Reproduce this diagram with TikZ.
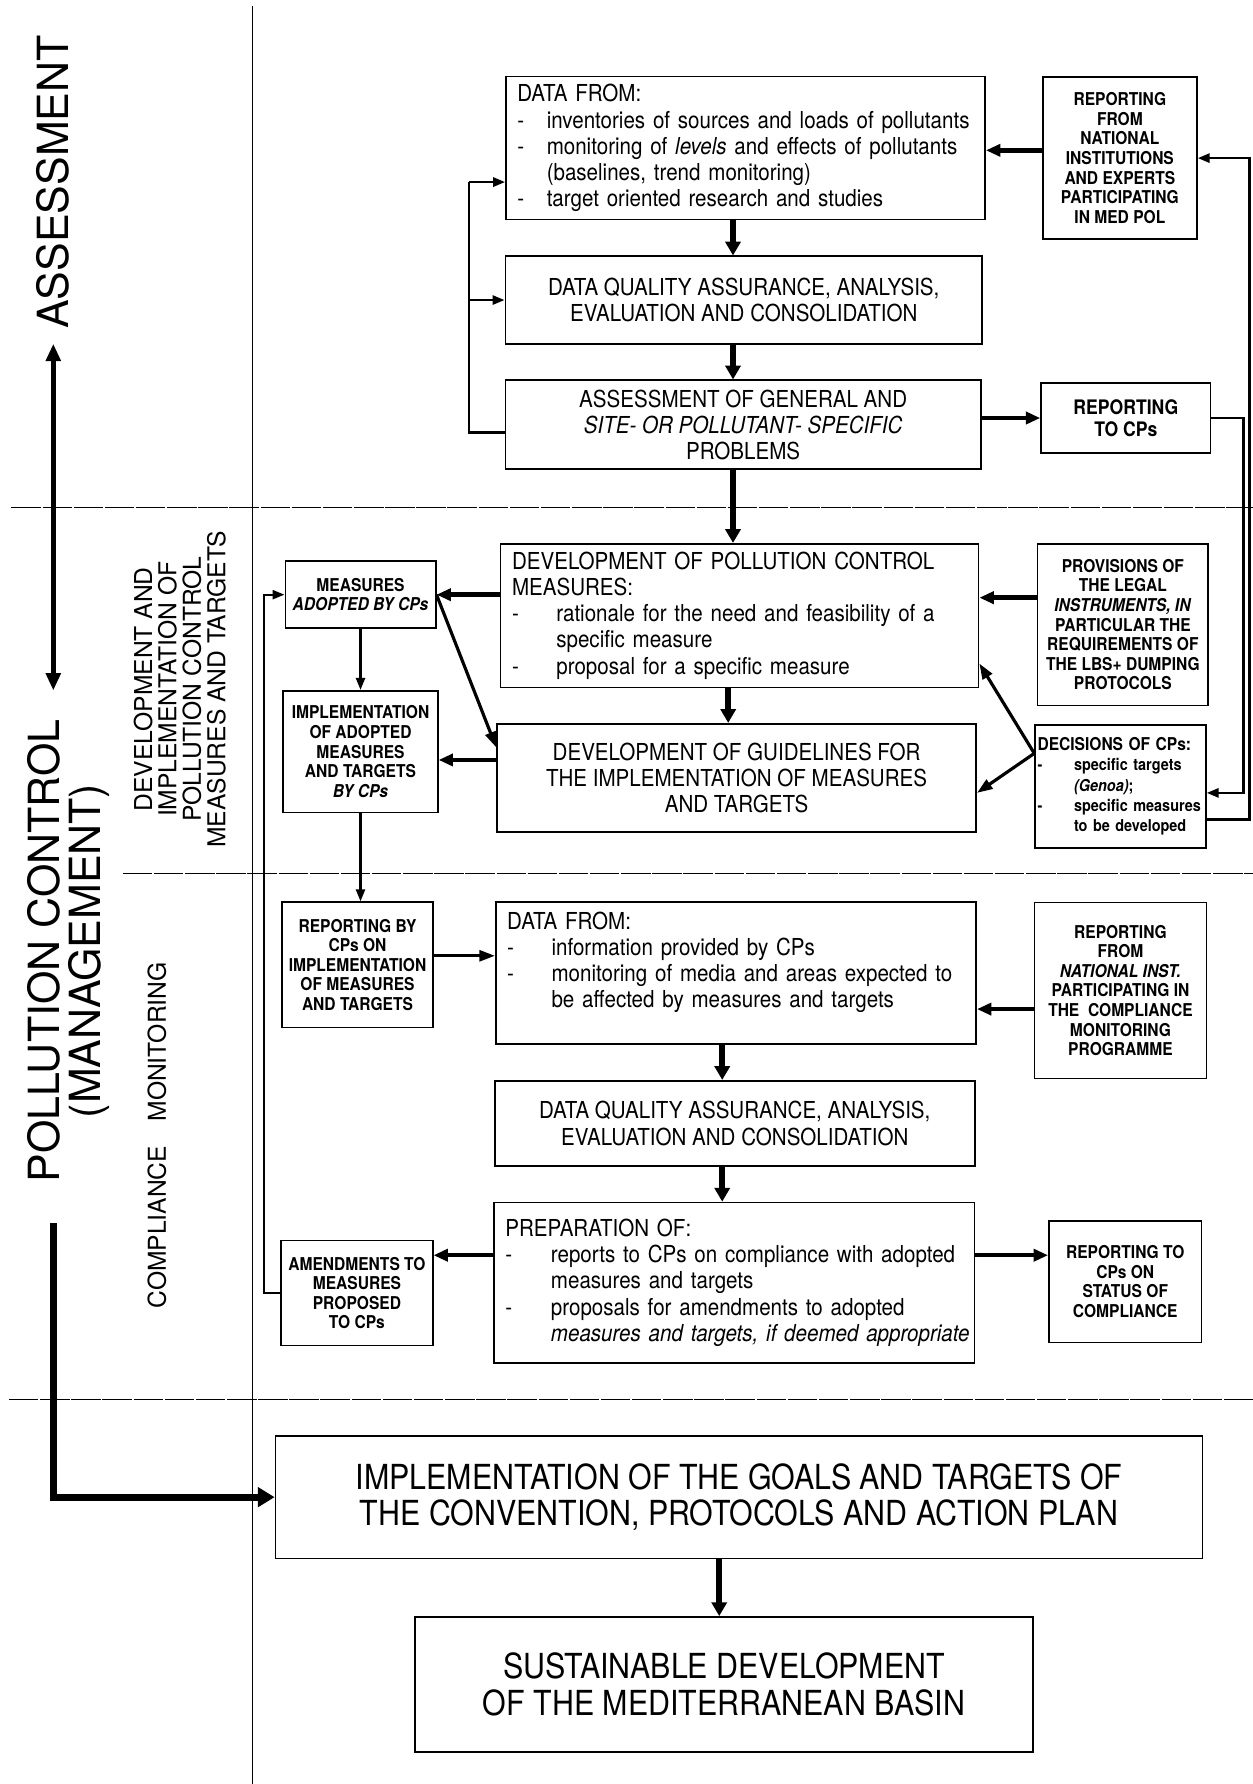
\documentclass[tikz,border=0pt]{standalone}
\usepackage{fontspec}
\setmainfont{TeX Gyre Heros}[FakeStretch=0.88]
\newfontfamily\plainsans{TeX Gyre Heros}
\usepackage{tikz}
\usetikzlibrary{calc, positioning, arrows.meta}

\newcommand{\dashline}[2]{\mbox{\makebox[#1][l]{-}#2}}
\newcommand{\contline}[2]{\mbox{\hspace*{#1}#2}}

\begin{document}
\begin{tikzpicture}[x=1mm, y=1mm]
		\tikzstyle{textbox}=[draw=black, line width=0.8pt, inner sep=0pt, align=center, font=\fontsize{11.1}{12.4}\selectfont]
		\tikzstyle{listbox}=[textbox, align=left, inner xsep=1.9mm]
		\tikzstyle{smallbox}=[draw=black, line width=0.8pt, inner sep=0.4mm, align=center, font=\bfseries\fontsize{8.4}{9.3}\selectfont]
		\tikzstyle{goalbox}=[draw=black, line width=0.8pt, inner sep=0pt, align=center, font=\fontsize{16.4}{17.3}\selectfont]
		\tikzstyle{sidelabel}=[rotate=90, align=center, inner sep=0pt, font=\plainsans\fontsize{20.4}{19.5}\selectfont]
		\tikzstyle{sectionlabel}=[rotate=90, align=center, inner sep=0pt, font=\plainsans\fontsize{11.7}{11.6}\selectfont]
		\tikzstyle{sepline}=[line width=0.6pt, dash pattern=on 14pt off 0.8pt]
		\tikzstyle{mainarrow}=[line width=2.6pt, -{Triangle[length=2.3mm, width=2.5mm]}]
		\tikzstyle{sidearrow}=[line width=2.1pt, -{Triangle[length=2.4mm, width=2mm]}]
		\tikzstyle{diagarrow}=[line width=1.5pt, -{Triangle[length=2.6mm, width=1.8mm]}]
		\tikzstyle{thinarrow}=[line width=1.1pt, -{Triangle[length=2mm, width=1.5mm]}]
		\tikzstyle{dblarrow}=[line width=2.2pt, {Triangle[length=2.9mm, width=2.4mm]}-{Triangle[length=2.9mm, width=2.4mm]}]
		\tikzstyle{bigarrow}=[line width=3.2pt, -{Triangle[length=2.8mm, width=3.2mm]}]

		\useasboundingbox (0,0) rectangle (209.2,-297.9);

		\draw [line width=0.7pt] (42.2,-1) -- (42.2,-297.9);
		\draw [sepline] (1.9,-84.7) -- (209.2,-84.7);
		\draw [sepline] (20.5,-145.9) -- (209.2,-145.9);
		\draw [sepline] (1.5,-233.7) -- (209.2,-233.7);

		\node (assess) at (8.9,-30.4) [sidelabel] {ASSESSMENT};
		\node (polcon) at (11.4,-158.8) [sidelabel] {POLLUTION CONTROL\\(MANAGEMENT)};
		\node (devlabel) at (30.0,-115.1) [sectionlabel] {DEVELOPMENT AND\\IMPLEMENTATION OF\\POLLUTION CONTROL\\MEASURES AND TARGETS};
		\node (cmlabel) at (26.2,-189.6) [sectionlabel] {COMPLIANCE\quad MONITORING};

		\coordinate (atop) at (8.9,-57.4);
		\coordinate (abot) at (8.9,-115.3);
		\coordinate (pcbot) at (8.9,-204.3);

		\node (df1) at (124.5,-24.7) [listbox, text width=76.2mm, minimum height=23.9mm] {DATA FROM:\\
			\dashline{4.9mm}{inventories of sources and loads of pollutants}\\
			\dashline{4.9mm}{monitoring of \textit{levels} and effects of pollutants}\\
			\contline{4.9mm}{(baselines, trend monitoring)}\\
			\dashline{4.9mm}{target oriented research and studies}};
		\node (dq1) at (124.2,-50.1) [textbox, minimum width=79.6mm, minimum height=14.6mm] {DATA QUALITY ASSURANCE, ANALYSIS,\\EVALUATION AND CONSOLIDATION};
		\node (as1) at (124.1,-70.9) [textbox, minimum width=79.4mm, minimum height=14.8mm] {ASSESSMENT OF GENERAL AND\\\textit{SITE- OR POLLUTANT- SPECIFIC}\\PROBLEMS};
		\node (rn1) at (187.0,-26.4) [smallbox, minimum width=25.7mm, minimum height=27mm] {REPORTING\\FROM\\NATIONAL\\INSTITUTIONS\\AND EXPERTS\\PARTICIPATING\\IN MED POL};
		\node (rc1) at (188.0,-69.8) [smallbox, minimum width=28.3mm, minimum height=11.6mm, font=\bfseries\fontsize{9.5}{10.2}\selectfont] {REPORTING\\TO CPs};

		\node (dv) at (123.5,-102.8) [listbox, text width=76.0mm, minimum height=24mm] {DEVELOPMENT OF POLLUTION CONTROL\\
			MEASURES:\\
			\dashline{7.4mm}{rationale for the need and feasibility of a}\\
			\contline{7.4mm}{specific measure}\\
			\dashline{7.4mm}{proposal for a specific measure}};
		\node (dg) at (123.0,-129.9) [textbox, minimum width=80mm, minimum height=18.1mm] {DEVELOPMENT OF GUIDELINES FOR\\THE IMPLEMENTATION OF MEASURES\\AND TARGETS};
		\node (ma) at (60.2,-99.3) [smallbox, minimum width=25.1mm, minimum height=11.2mm] {MEASURES\\\textit{ADOPTED BY CPs}};
		\node (im) at (60.2,-125.5) [smallbox, minimum width=25.8mm, minimum height=20.3mm] {IMPLEMENTATION\\OF ADOPTED\\MEASURES\\AND TARGETS\\\textit{BY CPs}};
		\node (pv) at (187.5,-104.3) [smallbox, minimum width=28.5mm, minimum height=27mm] {PROVISIONS OF\\THE LEGAL\\\textit{INSTRUMENTS, IN}\\PARTICULAR THE\\REQUIREMENTS OF\\THE LBS+ DUMPING\\PROTOCOLS};
		\node (dc) at (187.1,-131.3) [smallbox, align=left, text width=27.7mm, minimum height=20.5mm, font=\bfseries\fontsize{7.8}{9.6}\selectfont] {{\fontsize{8.4}{9.6}\selectfont DECISIONS OF CPs:}\\
			\dashline{6.1mm}{specific targets}\\
			\contline{6.1mm}{\textit{(Genoa)};}\\
			\dashline{6.1mm}{specific measures}\\
			\contline{6.1mm}{to be developed}};

		\node (rb) at (59.7,-161.1) [smallbox, minimum width=25.3mm, minimum height=20.9mm] {REPORTING BY\\CPs ON\\IMPLEMENTATION\\OF MEASURES\\AND TARGETS};
		\node (df2) at (122.9,-162.5) [listbox, text width=76.4mm, minimum height=23.7mm] {DATA FROM:\\
			\dashline{7.4mm}{information provided by CPs}\\
			\dashline{7.4mm}{monitoring of media and areas expected to}\\
			\contline{7.4mm}{be affected by measures and targets}\\\mbox{}};
		\node (rn2) at (187.1,-165.4) [smallbox, minimum width=28.7mm, minimum height=29.4mm] {REPORTING\\FROM\\\textit{NATIONAL INST.}\\PARTICIPATING IN\\THE\ \ COMPLIANCE\\MONITORING\\PROGRAMME};
		\node (dq2) at (122.7,-187.6) [textbox, minimum width=80.2mm, minimum height=14.25mm] {DATA QUALITY ASSURANCE, ANALYSIS,\\EVALUATION AND CONSOLIDATION};
		\node (pr) at (122.6,-214.2) [listbox, text width=76.4mm, minimum height=26.8mm] {PREPARATION OF:\\
			\dashline{7.6mm}{reports to CPs on compliance with adopted}\\
			\contline{7.6mm}{measures and targets}\\
			\dashline{7.6mm}{proposals for amendments to adopted}\\
			\contline{7.6mm}{\textit{measures and targets, if deemed appropriate}}};
		\node (am) at (59.6,-215.9) [smallbox, minimum width=25.3mm, minimum height=17.5mm] {AMENDMENTS TO\\MEASURES\\PROPOSED\\TO CPs};
		\node (rs) at (187.9,-214.0) [smallbox, minimum width=25.5mm, minimum height=20.3mm] {REPORTING TO\\CPs ON\\STATUS OF\\COMPLIANCE};

		\node (ig) at (123.4,-250.0) [goalbox, minimum width=154.8mm, minimum height=20.5mm] {IMPLEMENTATION OF THE GOALS AND TARGETS OF\\THE CONVENTION, PROTOCOLS AND ACTION PLAN};
		\node (sd) at (120.9,-281.3) [goalbox, minimum width=103.2mm, minimum height=22.6mm] {SUSTAINABLE DEVELOPMENT\\OF THE MEDITERRANEAN BASIN};

		\draw [dblarrow] (atop) -- (abot);
		\draw [bigarrow] (pcbot) |- (ig.west);

		\coordinate (spa) at (122.4,0);
		\coordinate (spb) at (121.6,0);
		\coordinate (spc) at (120.6,0);
		\coordinate (spd) at (120.1,0);
		\draw [mainarrow] (spa |- df1.south) -- (spa |- dq1.north);
		\draw [mainarrow] (spa |- dq1.south) -- (spa |- as1.north);
		\draw [mainarrow] (spa |- as1.south) -- (spa |- dv.north);
		\draw [mainarrow] (spb |- dv.south) -- (spb |- dg.north);
		\draw [mainarrow] (spc |- df2.south) -- (spc |- dq2.north);
		\draw [mainarrow] (spc |- dq2.south) -- (spc |- pr.north);
		\draw [mainarrow] (spd |- ig.south) -- (spd |- sd.north);

		\coordinate (fbtop) at (78.3,-30.4);
		\coordinate (asout) at ([yshift=-1.3mm]as1.west);
		\draw [line width=1.3pt] (asout) -| (fbtop);
		\draw [thinarrow, line width=1.3pt] (fbtop) -- (fbtop -| df1.west);
		\draw [thinarrow, line width=1.3pt] (fbtop |- dq1.west) -- (dq1.west);

		\coordinate (rnin) at ([yshift=1.3mm]rn1.west);
		\draw [sidearrow] (rnin) -- (rnin -| df1.east);
		\draw [sidearrow] (rc1.west -| as1.east) -- (rc1.west);

		\coordinate (pvout) at ([yshift=4.5mm]pv.west);
		\draw [sidearrow] (pvout) -- (pvout -| dv.east);
		\draw [sidearrow] (ma.east -| dv.west) -- (ma.east);
		\draw [diagarrow] (ma.east) -- ([yshift=5.1mm]dg.west);
		\coordinate (dgout) at ([yshift=3mm]dg.west);
		\draw [sidearrow] (dgout) -- (dgout -| im.east);
		\draw [thinarrow] (ma.south) -- (im.north);
		\draw [thinarrow] (im.south) -- (im.south |- rb.north);
		\coordinate (dcsrc) at ([yshift=5.5mm]dc.west);
		\draw [diagarrow] (dcsrc) -- ([yshift=-8mm]dv.east);
		\draw [diagarrow] (dcsrc) -- ([yshift=-2.5mm]dg.east);

		\coordinate (rgtin) at (207.6,0);
		\coordinate (rgtout) at (208.6,0);
		\coordinate (dcin) at ([yshift=-1.1mm]dc.east);
		\coordinate (dcout) at ([yshift=-5.5mm]dc.east);
		\draw [thinarrow, line width=1.3pt] (rc1.east) -- (rc1.east -| rgtin) -- (rgtin |- dcin) -- (dcin);
		\draw [thinarrow, line width=1.3pt] (dcout) -- (dcout -| rgtout) -- (rgtout |- rn1.east) -- (rn1.east);

		\coordinate (rbout) at ([yshift=1.5mm]rb.east);
		\draw [diagarrow] (rbout) -- (rbout -| df2.west);
		\coordinate (rnout) at ([yshift=-3.1mm]rn2.west);
		\draw [sidearrow] (rnout) -- (rnout -| df2.east);
		\coordinate (prl) at ([yshift=4.6mm]pr.west);
		\draw [sidearrow] (prl) -- (prl -| am.east);
		\coordinate (prr) at ([yshift=4.6mm]pr.east);
		\draw [sidearrow] (prr) -- (prr -| rs.west);

		\coordinate (fbl) at (44.1,0);
		\draw [thinarrow] (am.west) -- (am.west -| fbl) -- (fbl |- ma.west) -- (ma.west);
\end{tikzpicture}
\end{document}
